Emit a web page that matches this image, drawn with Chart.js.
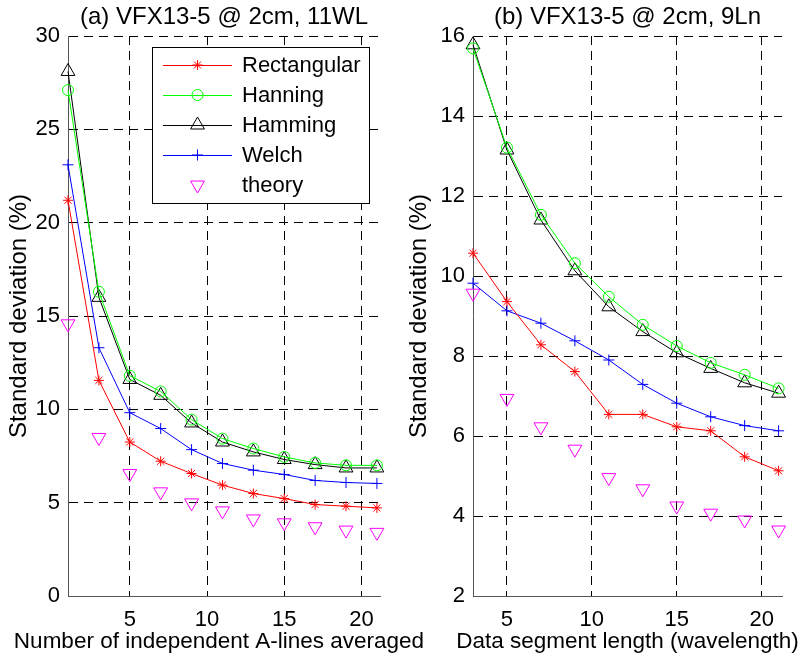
<!DOCTYPE html>
<html>
<head>
<meta charset="utf-8">
<script src="https://cdn.jsdelivr.net/npm/chart.js@4.4.1/dist/chart.umd.min.js"></script>
<style>
    html, body { margin: 0; padding: 0; background: #fff; }
    #wrap { position: relative; width: 800px; height: 664px; overflow: hidden; }
    .panel { position: absolute; top: 0; height: 664px; }
</style>
</head>
<body>
<div id="wrap">
    <div class="panel" style="left:400px;width:400px"><canvas id="chartB" width="400" height="664"></canvas></div>
    <div class="panel" style="left:0;width:440px"><canvas id="chartA" width="440" height="664"></canvas></div>
</div>
<script>
// ========== DATA ==========
// (a) std deviation vs number of independent A-lines averaged
const linesA   = [1, 3, 5, 7, 9, 11, 13, 15, 17, 19, 21];
const rectA    = [21.2, 11.55, 8.25, 7.22, 6.56, 5.94, 5.49, 5.22, 4.90, 4.81, 4.72];
const hannA    = [27.1, 16.3, 11.8, 10.96, 9.45, 8.43, 7.9, 7.45, 7.13, 7.0, 7.0];
const hammA    = [28.1, 16.0, 11.6, 10.75, 9.27, 8.25, 7.72, 7.31, 7.04, 6.86, 6.86];
const welchA   = [23.1, 13.3, 9.82, 8.97, 7.84, 7.1, 6.74, 6.51, 6.19, 6.08, 6.03];
const theoryA  = [14.58, 8.49, 6.56, 5.58, 4.99, 4.56, 4.13, 3.92, 3.71, 3.53, 3.41];

// (b) std deviation vs data segment length
const segB     = [3, 5, 7, 9, 11, 13, 15, 17, 19, 21];
const rectB    = [10.57, 9.36, 8.28, 7.61, 6.54, 6.54, 6.23, 6.13, 5.48, 5.13];
const hannB    = [15.69, 13.21, 11.53, 10.32, 9.48, 8.78, 8.25, 7.83, 7.53, 7.19];
const hammB    = [15.78, 13.15, 11.4, 10.13, 9.23, 8.61, 8.08, 7.69, 7.33, 7.07];
const welchB   = [9.82, 9.13, 8.82, 8.38, 7.9, 7.29, 6.82, 6.48, 6.26, 6.13];
const theoryB  = [9.57, 6.94, 6.23, 5.67, 4.96, 4.68, 4.25, 4.07, 3.9, 3.65];

// ticks and axis limits
const xTicks   = [5, 10, 15, 20];
const yTicksA  = [0, 5, 10, 15, 20, 25, 30];
const yTicksB  = [2, 4, 6, 8, 10, 12, 14, 16];
const xLimA    = [1, 21.2];
const xLimB    = [3, 21.2];
const yLimA    = [0, 30];
const yLimB    = [2, 16];

const seriesNames = ['Rectangular', 'Hanning', 'Hamming', 'Welch', 'theory'];

// ========== STYLE ==========
const FONT = 'Liberation Sans, Arial, sans-serif';
const TICK_SIZE = 22;
const TITLE_SIZE = 24;
const XLABEL_SIZE = 22.5;
const SERIES_STYLE = [
    { color: '#ff0000', pointStyle: 'star',     radius: 5,   rotation: 0,   line: true },
    { color: '#00ff00', pointStyle: 'circle',   radius: 5.5, rotation: 0,   line: true },
    { color: '#000000', pointStyle: 'triangle', radius: 8,   rotation: 0,   line: true },
    { color: '#0000ff', pointStyle: 'cross',    radius: 5.5, rotation: 0,   line: true },
    { color: '#ff00ff', pointStyle: 'triangle', radius: 8,   rotation: 180, line: false },
];

function makeDatasets(xs, seriesList) {
    return seriesList.map((ys, i) => {
        const st = SERIES_STYLE[i];
        return {
            label: seriesNames[i],
            data: xs.map((x, k) => ({ x: x, y: ys[k] })),
            borderColor: st.color,
            backgroundColor: 'rgba(0,0,0,0)',
            borderWidth: 1,
            showLine: st.line,
            pointStyle: st.pointStyle,
            pointRadius: st.radius,
            pointRotation: st.rotation,
            pointBorderColor: st.color,
            pointBackgroundColor: 'rgba(0,0,0,0)',
            pointBorderWidth: 1,
            tension: 0,
            clip: false,
        };
    });
}

function axisOptions(ticks, lim, title, isY, axisSize) {
    return {
        type: 'linear',
        min: lim[0],
        max: lim[1],
        afterBuildTicks: s => { s.ticks = ticks.map(v => ({ value: v })); },
        afterFit: s => { if (isY) s.width = axisSize; else s.height = axisSize; },
        grid: {
            color: c => (c.tick && c.tick.value === lim[0]) ? 'rgba(0,0,0,0)' : '#000',
            lineWidth: 1,
            drawTicks: false,
        },
        border: { display: true, color: '#555', width: 1, dash: [9, 6] },
        ticks: {
            color: '#000',
            font: { family: FONT, size: TICK_SIZE },
            padding: isY ? 8 : 11,
        },
        // x title is drawn by panelText (it is wider than the plot area)
        title: {
            display: isY,
            text: title,
            color: '#000',
            font: { family: FONT, size: TITLE_SIZE },
            padding: { top: 5, bottom: 0 },
        },
    };
}

// panel title and x-axis label, centred over the plot area
const panelText = {
    id: 'panelText',
    afterDraw(chart, args, opts) {
        const { ctx, chartArea } = chart;
        const cx = (chartArea.left + chartArea.right) / 2;
        ctx.save();
        ctx.fillStyle = '#000';
        ctx.textAlign = 'center';
        ctx.textBaseline = 'alphabetic';
        ctx.font = `${TITLE_SIZE}px ${FONT}`;
        ctx.fillText(opts.title, cx, 24);
        ctx.font = `${XLABEL_SIZE}px ${FONT}`;
        ctx.fillText(opts.xTitle, cx + (opts.xShift || 0), 648);
        ctx.restore();
    },
};

// matlab-style boxed legend inside panel (a)
const boxLegend = {
    id: 'boxLegend',
    afterDraw(chart, args, opts) {
        if (!opts.show) return;
        const { ctx } = chart;
        const b = opts.box;
        ctx.save();
        ctx.fillStyle = '#fff';
        ctx.fillRect(b.left, b.top, b.right - b.left, b.bottom - b.top);
        ctx.strokeStyle = '#000';
        ctx.lineWidth = 1;
        ctx.setLineDash([]);
        ctx.strokeRect(b.left + 0.5, b.top + 0.5, b.right - b.left, b.bottom - b.top);

        chart.data.datasets.forEach((ds, i) => {
            const st = SERIES_STYLE[i];
            const y = opts.firstRow + i * opts.rowGap;
            ctx.strokeStyle = st.color;
            if (st.line) {
                ctx.beginPath();
                ctx.moveTo(opts.lineFrom, y + 0.5);
                ctx.lineTo(opts.lineTo, y + 0.5);
                ctx.stroke();
            }
            ctx.fillStyle = 'rgba(0,0,0,0)';
            Chart.helpers.drawPoint(ctx, {
                pointStyle: st.pointStyle,
                rotation: st.rotation,
                radius: st.radius,
                borderWidth: 1,
            }, (opts.lineFrom + opts.lineTo) / 2, y);
            ctx.fillStyle = '#000';
            ctx.font = `${TICK_SIZE}px ${FONT}`;
            ctx.textAlign = 'left';
            ctx.textBaseline = 'middle';
            ctx.fillText(ds.label, opts.textX, y + 1);
        });
        ctx.restore();
    },
};

function buildChart(canvasId, xs, seriesList, xLim, yLim, yTicks, opt) {
    return new Chart(document.getElementById(canvasId), {
        type: 'scatter',
        data: { datasets: makeDatasets(xs, seriesList) },
        options: {
            responsive: false,
            animation: false,
            devicePixelRatio: 1,
            layout: { padding: { top: 36, right: opt.padRight, left: 0, bottom: 0 } },
            plugins: {
                legend: { display: false },
                tooltip: { enabled: false },
                panelText: { title: opt.title, xTitle: opt.xTitle, xShift: opt.xShift },
                boxLegend: opt.legend || { show: false },
            },
            scales: {
                x: axisOptions(xTicks, xLim, opt.xTitle, false, 68),
                y: axisOptions(yTicks, yLim, 'Standard deviation (%)', true, opt.yAxisWidth),
            },
        },
        plugins: [panelText, boxLegend],
    });
}

buildChart('chartA', linesA, [rectA, hannA, hammA, welchA, theoryA], xLimA, yLimA, yTicksA, {
    title: '(a) VFX13-5 @ 2cm, 11WL',
    xTitle: 'Number of independent A-lines averaged',
    padRight: 60,
    yAxisWidth: 68,
    xShift: -5,
    legend: {
        show: true,
        box: { left: 152, top: 47, right: 369, bottom: 203 },
        firstRow: 65,
        rowGap: 30,
        lineFrom: 163,
        lineTo: 232,
        textX: 242,
    },
});

buildChart('chartB', segB, [rectB, hannB, hammB, welchB, theoryB], xLimB, yLimB, yTicksB, {
    title: '(b) VFX13-5 @ 2cm, 9Ln',
    xTitle: 'Data segment length (wavelength)',
    padRight: 18,
    yAxisWidth: 73,
    xShift: 0,
});
</script>
</body>
</html>
